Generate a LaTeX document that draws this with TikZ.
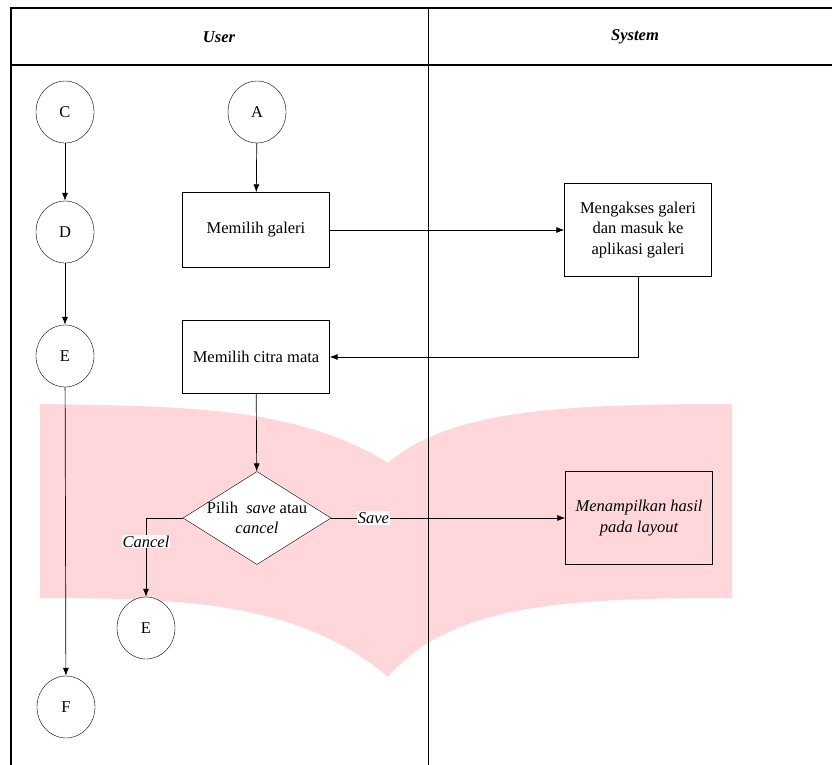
\documentclass[tikz,border=0pt]{standalone}
\usepackage{fontspec}
\setmainfont{Liberation Serif}
\usetikzlibrary{shapes.geometric,arrows.meta}
\definecolor{wmpink}{HTML}{FFD7DA}
\begin{document}
\begin{tikzpicture}[x=1pt,y=-1pt,
  every node/.style={font=\fontsize{16.5}{20.5}\selectfont},
  conn/.style={ellipse,draw,minimum width=58,minimum height=62,inner sep=0,fill=white},
  proc/.style={rectangle,draw,minimum width=147,minimum height=75,inner sep=2,align=center,fill=white},
  arr/.style={-{Latex[length=8,width=6]},line width=0.7},
  frame/.style={line width=1.3}]
\useasboundingbox (0,0) rectangle (832,765);
% watermark shape
\fill[wmpink] (40,404) .. controls (190,406) and (300,408) .. (388,463)
  .. controls (450,410) and (560,404) .. (732,404) -- (732,598)
  .. controls (560,598) and (450,605) .. (388,677)
  .. controls (300,603) and (190,598) .. (40,598) -- cycle;
% swimlane frame
\draw[frame] (11,765) -- (11,8) -- (832,8);
\draw[frame] (11,65) -- (832,65);
\draw[line width=1] (428,8) -- (428,765);
\node[font=\fontsize{16.5}{20}\selectfont\bfseries\itshape] (hu) at (219,37) {User};
\node[font=\fontsize{16.5}{20}\selectfont\bfseries\itshape] (hs) at (635,37) {System};
% nodes
\node[conn] (C) at (65,112) {C};
\node[conn] (D) at (65,232) {D};
\node[conn] (E) at (65,356) {E};
\node[conn] (F) at (66,707) {F};
\node[conn] (A) at (257,112) {A};
\node[conn] (E2) at (146,628) {E};
\node[proc] (galeri) at (256,230) {Memilih galeri};
\node[proc,minimum height=93] (akses) at (638,230) {Mengakses galeri\\dan masuk ke\\aplikasi galeri};
\node[proc,minimum height=73] (citra) at (256,357) {Memilih citra mata};
\node[diamond,draw,fill=white,minimum width=148,minimum height=93,inner sep=0] (dec) at (257,518) {};
\node[align=center,inner sep=0] (dectext) at (257,518) {Pilih \ \textit{save} atau\\\textit{cancel}};
\node[proc,minimum height=93,fill=none,font=\fontsize{16.5}{20.5}\selectfont\itshape] (tampil) at (639,518) {Menampilkan hasil\\pada layout};
% connectors
\draw[arr] (C) -- (D);
\draw[arr] (D) -- (E);
\draw[arr] (E) -- (F);
\draw[arr] (A) -- (galeri);
\draw[arr] (galeri) -- (akses);
\draw[arr] (akses.south) |- (citra.east);
\draw[arr] (citra) -- (dec);
\draw[arr] (dec.east) -- node[pos=0.18,fill=white,inner sep=1,font=\fontsize{16.5}{20}\selectfont\itshape] (lsave) {Save} (tampil.west);
\draw[arr] (dec.west) -| node[pos=0.65,fill=white,inner sep=1,font=\fontsize{16.5}{20}\selectfont\itshape] (lcancel) {Cancel} (E2.north);
\end{tikzpicture}
\end{document}
